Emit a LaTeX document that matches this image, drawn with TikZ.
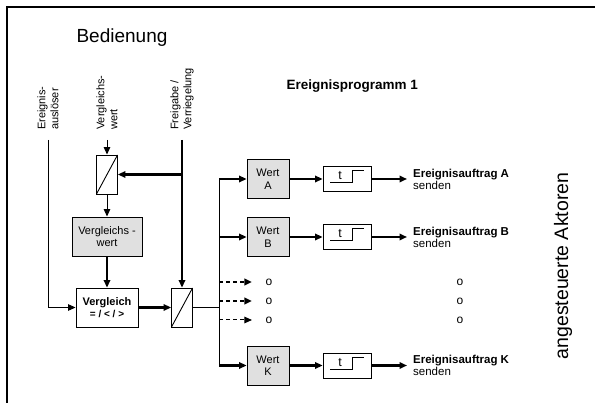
\documentclass[tikz,border=0pt]{standalone}
\usepackage{fontspec}
\setmainfont{Liberation Sans}
\usetikzlibrary{arrows.meta, positioning}

\tikzset{
	box/.style={draw, line width=0.9pt, minimum height=39pt, inner sep=1pt, align=center, font=\fontsize{11}{12.5}\selectfont},
	wert/.style={box, fill=black!12, minimum width=42pt},
	conv/.style={draw, line width=0.9pt, minimum width=21pt, minimum height=39pt, inner sep=0pt,
		path picture={\draw[line width=0.9pt] (path picture bounding box.south west) -- (path picture bounding box.north east);}},
	tbox/.style={draw, line width=0.9pt, minimum width=48pt, minimum height=25pt, inner sep=0pt,
		path picture={
			\begin{scope}[shift={(path picture bounding box.center)}]
				\draw[line width=0.9pt] (-17pt,-3.5pt) -- (5pt,-3.5pt) -- (5pt,8.5pt) -- (17pt,8.5pt);
				\node[inner sep=0pt, font=\fontsize{12.5}{12}\selectfont] at (-7pt,3pt) {t};
			\end{scope}}},
	sig/.style={line width=1pt, -{Triangle[length=7.5pt,width=6.5pt]}},
	heavy/.style={line width=2.2pt},
	inlabel/.style={rotate=90, anchor=west, align=left, inner sep=0pt, font=\fontsize{11}{13}\selectfont},
	outlabel/.style={anchor=west, align=left, inner sep=0pt, font=\fontsize{11.5}{12}\selectfont},
	dot/.style={inner sep=0pt, font=\fontsize{12}{12}\selectfont},
}

\begin{document}
\begin{tikzpicture}[x=1pt, y=-1pt, node distance=79pt]
	\useasboundingbox (0,0) rectangle (595,403);
	\draw[line width=1.3pt] (7,403) -- (7,7) -- (595,7);

	% Define the nodes
	\node (bedienung) [font=\fontsize{19}{22}\selectfont] at (122,38) {Bedienung};
	\node (programm) [anchor=west, font=\bfseries\fontsize{13.5}{16}\selectfont] at (283,86) {Ereignisprogramm 1};
	\node (aktoren) [rotate=90, font=\fontsize{19.5}{22}\selectfont] at (563,266) {angesteuerte Aktoren};

	\node (ausl) [inlabel] at (48,130) {Ereignis-\\auslöser};
	\node (vgwlbl) [inlabel] at (107,130) {Vergleichs-\\wert};
	\node (frei) [inlabel] at (182,130) {Freigabe /\\Verriegelung};

	\node (conv1) [conv] at (107,174.5) {};
	\node (vgw) [box, fill=black!12, minimum width=70pt] at (107,236.5) {Vergleichs -\\wert};
	\node (vgl) [box, minimum width=62pt] at (107,307.5) {\textbf{Vergleich}\\{\bfseries\fontsize{10}{11}\selectfont = / < / >}};
	\node (conv2) [conv] at (182,307.5) {};
	\coordinate (bus) at (219,307.5);

	\node (wertA) [wert] at (268,179) {Wert\\A};
	\node (wertB) [wert] at (268,237) {Wert\\B};
	\node (wertK) [wert] at (268,365.5) {Wert\\K};

	\node (tA) [tbox, right of=wertA] {};
	\node (tB) [tbox, right of=wertB] {};
	\node (tK) [tbox, right of=wertK] {};

	\node (auftrA) [outlabel] at (413,179) {\textbf{Ereignisauftrag A}\\senden};
	\node (auftrB) [outlabel] at (413,237) {\textbf{Ereignisauftrag B}\\senden};
	\node (auftrK) [outlabel] at (413,365.5) {\textbf{Ereignisauftrag K}\\senden};

	\node (o1) [dot] at (269,282) {o};
	\node (o2) [dot] at (269,301) {o};
	\node (o3) [dot] at (269,320) {o};
	\node (p1) [dot] at (460,282) {o};
	\node (p2) [dot] at (460,301) {o};
	\node (p3) [dot] at (460,320) {o};

	% Connect the nodes with arrows
	\draw[sig, shorten <=10pt] (ausl.west) |- (vgl.west);
	\draw[sig, shorten <=10pt] (vgwlbl.west) -- (conv1.north);
	\draw[sig, heavy, shorten <=10pt] (frei.west) -- (conv2.north);
	\draw[sig, heavy] (conv1.east -| conv2.north) -- (conv1.east);
	\draw[sig] (conv1) -- (vgw);
	\draw[sig, heavy] (vgw) -- (vgl);
	\draw[sig, heavy] (vgl) -- (conv2);
	\draw[line width=1pt] (conv2) -- (bus);
	\draw[line width=1pt] (bus |- wertA) -- (bus |- wertK);

	\draw[sig, heavy] (bus |- wertA) -- (wertA);
	\draw[sig, heavy] (bus |- wertB) -- (wertB);
	\draw[sig, heavy] (bus |- wertK) -- (wertK);
	\draw[sig, heavy, dash pattern=on 4pt off 3pt, shorten >=13.5pt] (bus |- o1) -- (o1.west);
	\draw[sig, heavy, dash pattern=on 4pt off 3pt, shorten >=13.5pt] (bus |- o2) -- (o2.west);
	\draw[sig, dash pattern=on 4pt off 3pt, shorten >=13.5pt] (bus |- o3) -- (o3.west);

	\draw[sig, heavy] (wertA) -- (tA);
	\draw[sig, heavy] (wertB) -- (tB);
	\draw[sig, heavy] (wertK) -- (tK);
	\draw[sig, heavy, shorten >=6pt] (tA) -- (auftrA.west);
	\draw[sig, heavy, shorten >=6pt] (tB) -- (auftrB.west);
	\draw[sig, heavy, shorten >=6pt] (tK) -- (auftrK.west);
\end{tikzpicture}
\end{document}
